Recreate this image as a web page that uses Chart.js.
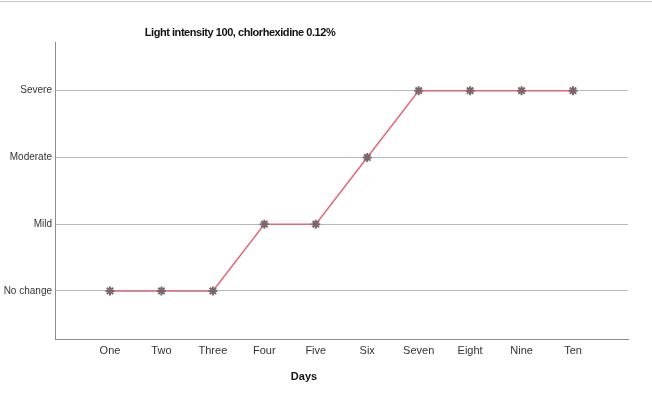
<!DOCTYPE html>
<html>
<head>
<meta charset="utf-8">
<script src="https://cdn.jsdelivr.net/npm/chart.js@4"></script>
<style>
html,body{margin:0;padding:0;background:#fff;}
#wrap{position:relative;width:652px;height:398px;}
#topline{position:absolute;left:0;top:1px;width:652px;height:1px;background:#c8c8c8;}
canvas{display:block;}
</style>
</head>
<body>
<div id="wrap"><div id="topline"></div><canvas id="c" width="652" height="398"></canvas></div>
<script>
const days = ["One","Two","Three","Four","Five","Six","Seven","Eight","Nine","Ten"];
const severityLabels = ["No change","Mild","Moderate","Severe"];
const severity = [0,0,0,1,1,2,3,3,3,3];
const chartTitle = "Light intensity 100, chlorhexidine 0.12%";
const xTitle = "Days";

const points = days.map((d,i)=>({x:i+1, y:severity[i]}));

const textPlugin = {
  id:'texts',
  afterDraw(chart){
    const ctx = chart.ctx;
    ctx.save();
    ctx.fillStyle = '#111';
    ctx.textAlign = 'center';
    ctx.textBaseline = 'middle';
    ctx.font = 'bold 11px "Liberation Sans", Arial, sans-serif';
    if ('letterSpacing' in ctx) ctx.letterSpacing = '-0.45px';
    ctx.fillText(chartTitle, 240, 33);
    if ('letterSpacing' in ctx) ctx.letterSpacing = '0px';
    ctx.fillText(xTitle, 304, 377);
    ctx.restore();
  }
};

new Chart(document.getElementById('c'), {
  type:'line',
  data:{
    datasets:[{
      data: points,
      borderColor:'#e06a78',
      borderWidth:1.5,
      tension:0,
      pointStyle:'star',
      pointRadius:4.5,
      pointBorderWidth:2,
      pointBorderColor:'#7a666c',
      pointBackgroundColor:'#7a666c'
    }]
  },
  options:{
    responsive:false,
    animation:false,
    layout:{padding:{top:42,right:24,left:0,bottom:0}},
    plugins:{legend:{display:false},tooltip:{enabled:false},title:{display:false}},
    scales:{
      x:{
        type:'linear',
        min:-0.069, max:11.069,
        afterBuildTicks(s){ s.ticks = days.map((d,i)=>({value:i+1})); },
        afterFit(s){ s.height = 59; },
        ticks:{
          callback:(v)=>days[v-1],
          autoSkip:false, maxRotation:0,
          padding:5,
          color:'#333',
          font:{family:'"Liberation Sans", Arial, sans-serif', size:11}
        },
        grid:{display:false, drawTicks:false},
        border:{display:true, color:'#8c8c8c', width:1}
      },
      y:{
        min:-0.72, max:3.73,
        afterBuildTicks(s){ s.ticks = severityLabels.map((l,i)=>({value:i})); },
        afterFit(s){ s.width = 55; },
        ticks:{
          callback:(v)=>severityLabels[v],
          padding:3,
          color:'#333',
          font:{family:'"Liberation Sans", Arial, sans-serif', size:10}
        },
        grid:{color:'#b8b8b8', lineWidth:1, drawTicks:false},
        border:{display:true, color:'#8c8c8c', width:1}
      }
    }
  },
  plugins:[textPlugin]
});
</script>
</body>
</html>
